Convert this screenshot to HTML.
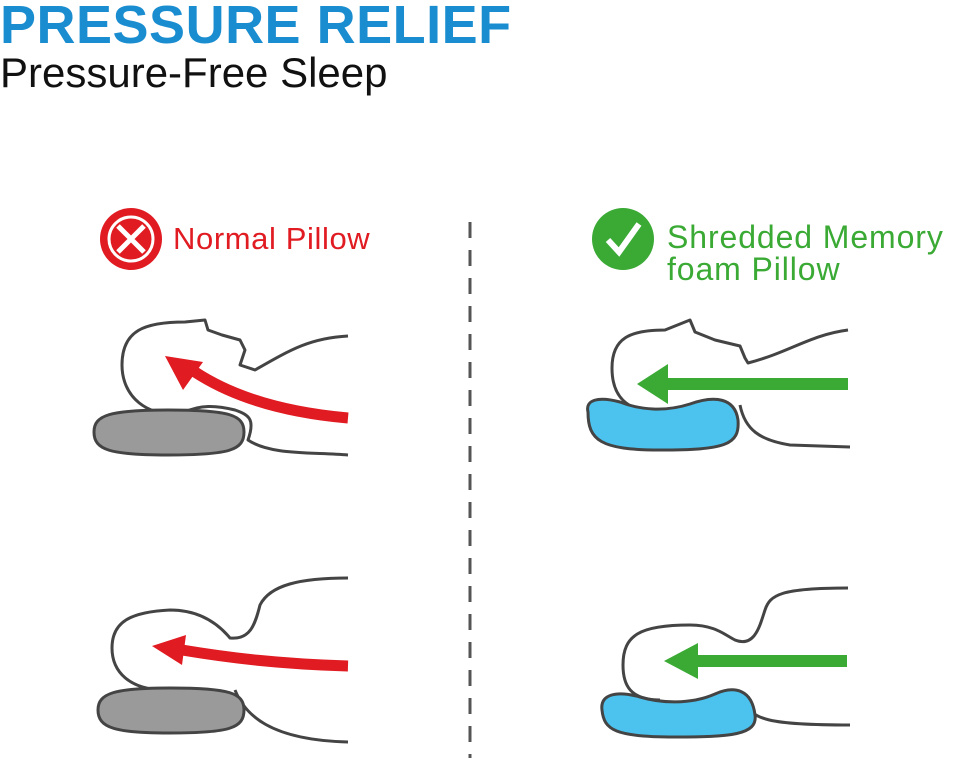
<!DOCTYPE html>
<html><head><meta charset="utf-8"><style>
body{margin:0;width:954px;height:758px;background:#fff;overflow:hidden;position:relative;font-family:"Liberation Sans",sans-serif}
.t{position:absolute;white-space:nowrap}
</style></head><body>
<div class="t" style="left:0;top:-6px;font-size:54px;font-weight:bold;color:#1a8dd0;letter-spacing:0.5px">PRESSURE RELIEF</div>
<div class="t" style="left:0;top:49px;font-size:42px;color:#111">Pressure-Free Sleep</div>
<div class="t" style="left:173px;top:221px;font-size:31px;color:#e11b22;letter-spacing:0.6px">Normal Pillow</div>
<div class="t" style="left:667px;top:221px;font-size:32px;color:#3aaa35;line-height:32px;letter-spacing:0.9px">Shredded Memory<br>foam Pillow</div>
<svg width="954" height="758" style="position:absolute;left:0;top:0">
<line x1="470" y1="222" x2="470" y2="758" stroke="#555" stroke-width="3" stroke-dasharray="16,12"/>
<circle cx="131" cy="239" r="31" fill="#e11b22"/>
<path d="M118 226 L144 252 M144 226 L118 252" stroke="#fff" stroke-width="5" fill="none"/>
<circle cx="131" cy="239" r="22" fill="none" stroke="#fff" stroke-width="3"/>
<circle cx="623" cy="239" r="31" fill="#3aaa35"/>
<path d="M608 240 L619 252 L639 224" stroke="#fff" stroke-width="6" fill="none"/>
<g fill="none" stroke="#444" stroke-width="3" stroke-linejoin="round">
<path d="M190 413 C145 420 122 395 122 365 C122 330 145 322 185 322 L205 320 L208 330 L222 335 L240 340 L245 350 L240 365 L255 370 C290 350 310 338 348 336"/>
<path d="M185 412 C200 405 215 405 235 410 C250 415 255 420 248 440 C270 455 310 452 348 455"/>
<path d="M94 432 C94 415 110 410 168 410 C230 410 244 415 244 432 C244 450 230 455 168 455 C110 455 94 450 94 432Z" fill="#9a9a9a"/>
<path d="M660 412 C625 412 612 395 612 368 C612 338 630 330 665 330 L690 320 L695 332 L715 340 L740 346 L745 358 L748 363 C790 352 810 335 848 330"/>
<path d="M740 405 C745 430 760 440 790 445 L850 447"/>
<path d="M588 412 C585 400 598 396 620 402 C640 410 665 412 690 404 C715 395 735 398 738 420 C740 445 725 450 660 450 C600 450 588 440 588 412Z" fill="#4cc3ef"/>
<path d="M165 690 C130 690 112 672 112 648 C112 622 130 612 170 610 C195 610 215 620 230 638 C250 640 255 625 260 605 C270 585 300 578 348 578"/>
<path d="M235 690 C245 715 270 740 348 742"/>
<path d="M98 710 C98 693 115 688 170 688 C230 688 244 693 244 710 C244 728 230 733 170 733 C115 733 98 728 98 710Z" fill="#9a9a9a"/>
<path d="M660 700 C630 700 623 685 623 665 C623 635 640 625 690 625 C715 625 725 635 735 640 C755 648 760 625 765 610 C770 595 780 588 848 588"/>
<path d="M745 700 C750 720 770 725 850 725"/>
<path d="M602 710 C600 695 615 690 640 697 C660 703 690 705 715 694 C735 685 752 690 755 715 C758 735 730 737 675 737 C615 737 604 730 602 710Z" fill="#4cc3ef"/>
</g>
<path d="M348 418 C280 412 230 395 195 372" stroke="#e11b22" stroke-width="11" fill="none"/>
<polygon points="165,356 203,362 183,390" fill="#e11b22"/>
<path d="M348 666 C280 664 230 658 182 650" stroke="#e11b22" stroke-width="11" fill="none"/>
<polygon points="152,646 186,635 182,665" fill="#e11b22"/>
<rect x="665" y="378" width="183" height="12" fill="#3aaa35"/>
<polygon points="637,384 668,364 668,404" fill="#3aaa35"/>
<rect x="695" y="655" width="152" height="12" fill="#3aaa35"/>
<polygon points="664,661 698,643 698,679" fill="#3aaa35"/>
</svg>
</body></html>
